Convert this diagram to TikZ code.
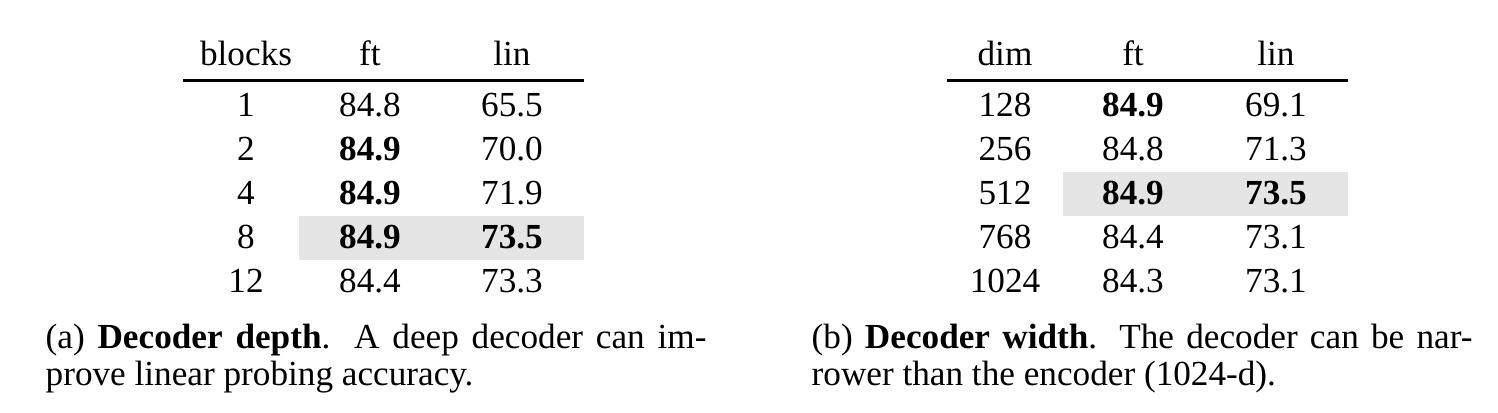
\documentclass[tikz,border=0pt]{standalone}
\usepackage{fontspec}
\setmainfont{Liberation Serif}
\definecolor{hlgray}{gray}{0.9}
\begin{document}
\begin{tikzpicture}[x=0.294pt, y=-0.294pt, font=\fontsize{10.35}{11.3}\selectfont, inner sep=0pt, line join=round]
\def\ya{65} \def\yb{116} \def\dy{44} % header, first row
\def\capw{194.3pt}
\useasboundingbox (0,0) rectangle (1498,412);
% (a) depth
\def\xa{246} \def\xb{370} \def\xc{512}
\fill[hlgray] (299,216) rectangle (584,260);
\draw[line width=0.9pt] (183,80.5)--(584,80.5);
\node[anchor=base] (ha1) at (\xa,\ya) {blocks};
\node[anchor=base] (ha2) at (\xb,\ya) {ft};
\node[anchor=base] (ha3) at (\xc,\ya) {lin};
\foreach \n/\f/\l [count=\r from 0] in {1/84.8/65.5, 2/\textbf{84.9}/70.0, 4/\textbf{84.9}/71.9, 8/\textbf{84.9}/\textbf{73.5}, 12/84.4/73.3}{
  \node[anchor=base] (a\r1) at (\xa,\yb+\r*\dy) {\n};
  \node[anchor=base] (a\r2) at (\xb,\yb+\r*\dy) {\f};
  \node[anchor=base] (a\r3) at (\xc,\yb+\r*\dy) {\l};
}
\node[anchor=base west] (capa1) at (45,348) {\makebox[\capw][s]{(a) \textbf{Decoder depth}.  A deep decoder can im-}};
\node[anchor=base west] (capa2) at (45,385) {prove linear probing accuracy.};
% (b) width
\def\xa{1005} \def\xb{1133} \def\xc{1276}
\fill[hlgray] (1063,172) rectangle (1348,216);
\draw[line width=0.9pt] (947,80.5)--(1348,80.5);
\node[anchor=base] (hb1) at (\xa,\ya) {dim};
\node[anchor=base] (hb2) at (\xb,\ya) {ft};
\node[anchor=base] (hb3) at (\xc,\ya) {lin};
\foreach \n/\f/\l [count=\r from 0] in {128/\textbf{84.9}/69.1, 256/84.8/71.3, 512/\textbf{84.9}/\textbf{73.5}, 768/84.4/73.1, 1024/84.3/73.1}{
  \node[anchor=base] (b\r1) at (\xa,\yb+\r*\dy) {\n};
  \node[anchor=base] (b\r2) at (\xb,\yb+\r*\dy) {\f};
  \node[anchor=base] (b\r3) at (\xc,\yb+\r*\dy) {\l};
}
\node[anchor=base west] (capb1) at (811,348) {\makebox[\capw][s]{(b) \textbf{Decoder width}.  The decoder can be nar-}};
\node[anchor=base west] (capb2) at (811,385) {rower than the encoder (1024-d).};
\end{tikzpicture}
\end{document}
